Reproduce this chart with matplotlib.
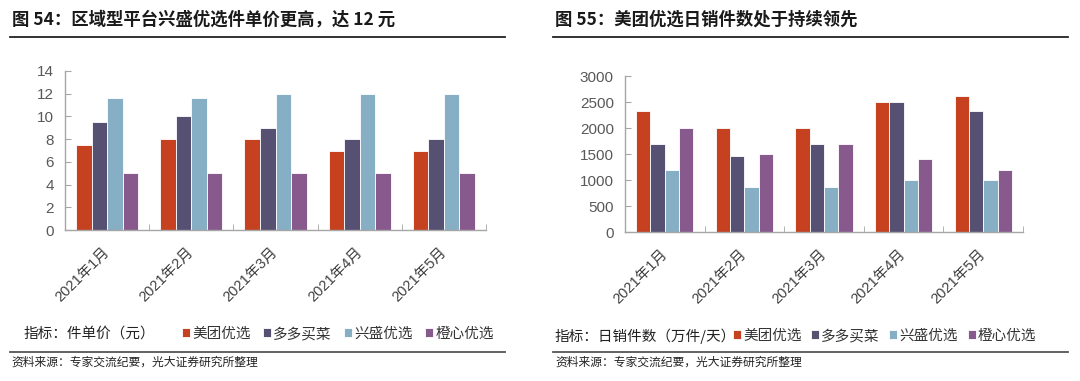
import numpy as np
import matplotlib
matplotlib.use('Agg')
import matplotlib.pyplot as plt
from matplotlib.lines import Line2D

plt.rcParams['font.family'] = ['Liberation Sans', 'Noto Sans CJK SC', 'DejaVu Sans']

months = ['2021年1月', '2021年2月', '2021年3月', '2021年4月', '2021年5月']
series_names = ['美团优选', '多多买菜', '兴盛优选', '橙心优选']
colors = ['#C5411F', '#565073', '#86AEC4', '#87598C']

# 件单价（元）
price_meituan = [7.5, 8, 8, 7, 7]
price_duoduo = [9.5, 10, 9, 8, 8]
price_xingsheng = [11.6, 11.6, 12, 12, 12]
price_chengxin = [5, 5, 5, 5, 5]

# 日销件数（万件/天）
sales_meituan = [2320, 2000, 2000, 2500, 2620]
sales_duoduo = [1700, 1470, 1700, 2500, 2320]
sales_xingsheng = [1200, 860, 860, 1000, 1000]
sales_chengxin = [2000, 1500, 1700, 1410, 1200]

W, H = 1080, 381
CJK = ['Noto Sans CJK SC', 'DejaVu Sans']


def fx(px):
    return px / W


def fy(py):
    return 1 - py / H


def draw_bars(ax, data, ymax, ystep, bw):
    x = np.arange(len(months))
    bars = []
    for i, vals in enumerate(data):
        b = ax.bar(x + (i - 1.5) * bw, vals, bw, color=colors[i],
                   edgecolor='white', linewidth=0.6, label=series_names[i])
        bars.append(b)
    ax.set_xlim(-0.5, len(months) - 0.5)
    ax.set_ylim(0, ymax)
    ax.set_yticks(np.arange(0, ymax + 1e-9, ystep))
    ax.set_xticks(x)
    ax.set_xticklabels(months, rotation=45, ha='right', va='center',
                       rotation_mode='anchor', fontsize=10.5, color='#404040')
    ax.set_xticks(np.arange(0.5, len(months), 1.0), minor=True)
    ax.tick_params(axis='x', which='major', length=0, pad=14)
    ax.tick_params(axis='x', which='minor', length=4, direction='in', color='#A6A6A6')
    ax.tick_params(axis='y', length=4, direction='in', color='#A6A6A6',
                   labelsize=11, labelcolor='#595959', pad=8)
    for s in ['top', 'right']:
        ax.spines[s].set_visible(False)
    for s in ['left', 'bottom']:
        ax.spines[s].set_color('#A6A6A6')
        ax.spines[s].set_linewidth(1.0)
    return bars


fig = plt.figure(figsize=(W / 100, H / 100), dpi=100)

# left panel
ax1 = fig.add_axes([fx(65), fy(230), fx(486 - 65), (230 - 71) / H])
bars1 = draw_bars(ax1, [price_meituan, price_duoduo, price_xingsheng, price_chengxin], 14, 2, 0.185)

# right panel
ax2 = fig.add_axes([fx(625), fy(232), fx(1023 - 625), (232 - 76) / H])
bars2 = draw_bars(ax2, [sales_meituan, sales_duoduo, sales_xingsheng, sales_chengxin], 3000, 500, 0.18)

# titles
fig.text(fx(12), fy(20), '图 54：区域型平台兴盛优选件单价更高，达 12 元', fontsize=12.5,
         fontweight='bold', family=CJK, va='center', ha='left', color='#1a1a1a')
fig.text(fx(555), fy(20), '图 55：美团优选日销件数处于持续领先', fontsize=12.5,
         fontweight='bold', family=CJK, va='center', ha='left', color='#1a1a1a')

# rules
for x0, x1 in [(10, 505), (553, 1068)]:
    fig.add_artist(Line2D([fx(x0), fx(x1)], [fy(37), fy(37)], color='#222222', lw=1.3))
    fig.add_artist(Line2D([fx(x0), fx(x1)], [fy(352), fy(352)], color='#555555', lw=1.3))

# indicator labels
fig.text(fx(24), fy(334), '指标：件单价（元）', fontsize=10.5, family=CJK,
         va='center', ha='left', color='#222222')
fig.text(fx(555), fy(336), '指标：日销件数（万件/天）', fontsize=10.5, family=CJK,
         va='center', ha='left', color='#222222')

# legends
leg_kw = dict(ncol=4, frameon=False, handlelength=0.55, handleheight=0.55,
              handletextpad=0.15, borderpad=0, borderaxespad=0,
              prop={'family': CJK, 'size': 10.5}, labelcolor='#333333')
fig.legend(bars1, series_names, loc='center left', bbox_to_anchor=(fx(182), fy(334)),
           columnspacing=0.85, **leg_kw)
fig.legend(bars2, series_names, loc='center left', bbox_to_anchor=(fx(733), fy(336)),
           columnspacing=0.65, **leg_kw)

# sources
fig.text(fx(11), fy(362), '资料来源：专家交流纪要，光大证券研究所整理', fontsize=8.5,
         family=CJK, va='center', ha='left', color='#222222')
fig.text(fx(555), fy(362), '资料来源：专家交流纪要，光大证券研究所整理', fontsize=8.5,
         family=CJK, va='center', ha='left', color='#222222')

fig.savefig('out.png', dpi=100)
